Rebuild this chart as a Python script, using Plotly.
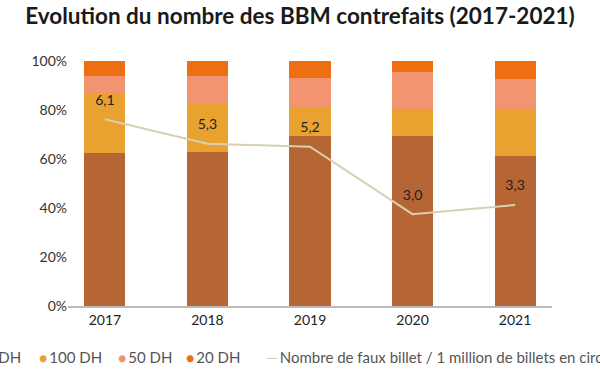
import plotly.graph_objects as go

years = ["2017", "2018", "2019", "2020", "2021"]
dh200 = [62.3, 63.0, 69.4, 69.4, 61.2]
dh100 = [24.2, 19.8, 11.9, 11.1, 18.9]
dh50 = [7.2, 10.9, 11.7, 14.9, 12.4]
dh20 = [6.3, 6.3, 7.0, 4.6, 7.5]
faux = [6.1, 5.3, 5.2, 3.0, 3.3]
faux_labels = ["6,1", "5,3", "5,2", "3,0", "3,3"]
y_ticks = [0, 20, 40, 60, 80, 100]
y_tick_labels = ["0%", "20%", "40%", "60%", "80%", "100%"]
line_name = "Nombre de faux billet / 1 million de billets en circulation"

series = [
    ("200 DH", dh200, "#b66535"),
    ("100 DH", dh100, "#e9a130"),
    ("50 DH", dh50, "#f29470"),
    ("20 DH", dh20, "#ed6f12"),
]
LINE_COLOR = "#d8d0b0"

FONT = "Lato"
W, H = 600, 372
L, R, T, B = 68, 48, 61, 66
PW = W - L - R
PH = H - T - B

def sx(px):  # screen x -> paper x
    return (px - L) / PW

def sy(py):  # screen y -> paper y
    return (H - B - py) / PH

fig = go.Figure()
for name, vals, col in series:
    fig.add_trace(go.Bar(x=years, y=vals, name=name, marker_color=col,
                         marker_line_width=0, width=0.4))

fig.add_trace(go.Scatter(x=years, y=faux, mode="lines+markers+text", yaxis="y2",
                         name=line_name, text=faux_labels, textposition="top center",
                         textfont=dict(family=FONT, size=14, color="#222"),
                         marker=dict(size=16, color="rgba(0,0,0,0)"),
                         line=dict(color=LINE_COLOR, width=2), cliponaxis=False))

# custom legend (text annotations)
legend_items = [(name, col, "●", 14) for name, _, col in series] + [(line_name, LINE_COLOR, "—", 15)]
legend_pos = [(23, "right"), (37, "left"), (116, "left"), (184, "left"), (264, "left")]
for (name, col, sym, fs), (px, anchor) in zip(legend_items, legend_pos):
    fig.add_annotation(
        xref="paper", yref="paper", x=sx(px), xanchor=anchor,
        y=sy(357), yanchor="middle", showarrow=False,
        text=f"<span style='color:{col};font-size:{fs}px'>{sym}</span>&#8201;{name}",
        font=dict(family=FONT, size=15, color="#555"))

fig.update_layout(
    width=W, height=H, barmode="stack", showlegend=False,
    margin=dict(l=L, r=R, t=T, b=B),
    paper_bgcolor="white", plot_bgcolor="white",
    title=dict(text="<b>Evolution du nombre des BBM contrefaits (2017-2021)</b>",
               x=0.5, xanchor="center", xref="container",
               y=1 - 16 / H, yanchor="middle",
               font=dict(family=FONT, size=22.5, color="#1a1a1a")),
    font=dict(family=FONT, size=13, color="#333"),
    xaxis=dict(range=[-0.36, 4.36], showline=True, linecolor="#bbbbbb", linewidth=1.5,
               ticks="", tickfont=dict(size=14, color="#222")),
    yaxis=dict(range=[0, 100], tickvals=y_ticks, ticktext=y_tick_labels,
               showgrid=False, zeroline=False, tickfont=dict(size=14, color="#333")),
    yaxis2=dict(range=[0, 8], overlaying="y", side="right", visible=False),
)
fig.write_html("out.html", config={"displayModeBar": False},
               post_script="document.body.style.margin='0';")
